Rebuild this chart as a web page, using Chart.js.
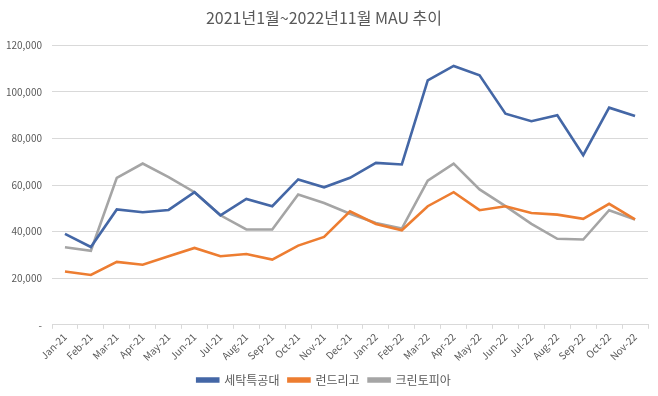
<!DOCTYPE html>
<html><head><meta charset="utf-8">
<script src="https://cdn.jsdelivr.net/npm/chart.js@4"></script>
<style>html,body{margin:0;padding:0;background:#fff;}#wrap{width:658px;height:396px;}</style>
</head><body><div id="wrap"><canvas id="c" width="658" height="396"></canvas></div>
<script>
const categories = ['Jan-21','Feb-21','Mar-21','Apr-21','May-21','Jun-21','Jul-21','Aug-21','Sep-21','Oct-21','Nov-21','Dec-21','Jan-22','Feb-22','Mar-22','Apr-22','May-22','Jun-22','Jul-22','Aug-22','Sep-22','Oct-22','Nov-22'];
const seriesNames = ['세탁특공대','런드리고','크린토피아'];
const laundryGo = [39000,33400,49500,48300,49300,56900,47000,54000,50900,62400,59000,63100,69500,68800,104900,111100,107100,90600,87400,89900,72800,93200,89600];
const rundrygo = [22900,21400,27000,25800,29400,33000,29400,30400,28000,34000,37700,48700,43300,40600,50900,56900,49200,50900,48000,47300,45500,51900,45200];
const cleantopia = [33300,31800,63100,69200,63400,56900,47000,40900,40900,55900,52300,47700,43700,41300,61900,69200,58100,50900,43300,36900,36600,49200,45200];
const yTicks = [0,20000,40000,60000,80000,100000,120000];
const titleText = '2021년1월~2022년11월 MAU 추이';

const FONT = "'Noto Sans CJK KR','Noto Sans',sans-serif";
const colors = ['#4467A6','#ED7D31','#A5A5A5'];
const data = {
  labels: categories,
  datasets: [laundryGo, rundrygo, cleantopia].map((d,i)=>({
    label: seriesNames[i], data: d, borderColor: colors[i], backgroundColor: colors[i],
    borderWidth: 2.6, pointRadius: 0, tension: 0, fill: false
  }))
};
new Chart(document.getElementById('c'), {
  type: 'line',
  data,
  options: {
    responsive: false, animation: false,
    layout: { padding: { left: 0, right: 10, top: 8, bottom: 0 } },
    plugins: {
      title: { display: true, text: titleText, color: '#595959', font: { family: FONT, size: 16, weight: 'normal' }, padding: { top: 0, bottom: 18 } },
      legend: { position: 'bottom', labels: { color: '#595959', font: { family: FONT, size: 12 }, boxWidth: 21, boxHeight: 3, padding: 9 } },
      tooltip: { enabled: false }
    },
    scales: {
      x: {
        offset: true,
        grid: { offset: true, drawOnChartArea: false, drawTicks: true, tickLength: 4, color: '#d9d9d9' },
        border: { color: '#d9d9d9' },
        ticks: { color: '#595959', font: { family: FONT, size: 10 }, maxRotation: 45, minRotation: 45, autoSkip: false, padding: 2 }
      },
      y: {
        min: 0, max: 120000,
        afterBuildTicks: s => { s.ticks = yTicks.map(v => ({ value: v })); },
        afterFit: s => { s.width = 52; },
        grid: { color: '#d9d9d9', drawTicks: false },
        border: { display: false },
        ticks: { color: '#595959', font: { family: FONT, size: 10 }, padding: 10,
          callback: v => v === 0 ? '-' : v.toLocaleString('en-US') }
      }
    }
  }
});
</script></body></html>
